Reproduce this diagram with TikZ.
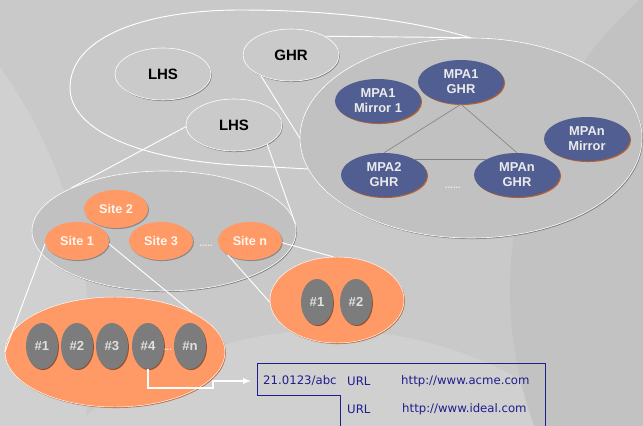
\documentclass[tikz,border=0pt]{standalone}
\usepackage{fontspec}
\setsansfont{Liberation Sans}
\newfontfamily\tblfont{DejaVu Sans}
\usetikzlibrary{shapes.geometric}
\usetikzlibrary{shadows}
\usetikzlibrary{arrows}

\definecolor{bgbase}{RGB}{201,201,201}
\definecolor{bglight}{RGB}{208,208,208}
\definecolor{bgdark}{RGB}{194,194,194}
\definecolor{hubgray}{RGB}{202,202,202}
\definecolor{poolgray}{RGB}{193,193,193}
\definecolor{mpablue}{RGB}{81,94,145}
\definecolor{shadebrown}{RGB}{180,96,50}
\definecolor{siteorange}{RGB}{255,153,102}
\definecolor{hostgray}{RGB}{124,124,124}
\definecolor{tblblue}{RGB}{30,30,140}

\begin{document}
\begin{tikzpicture}[x=0.03cm, y=-0.03cm,
  hub/.style={ellipse, fill=hubgray, draw=white, line width=0.5pt, inner sep=0pt,
    minimum width=2.88cm, minimum height=1.56cm,
    font=\sffamily\bfseries\fontsize{12.8}{15}\selectfont,
    drop shadow={shadow xshift=0.7pt, shadow yshift=-0.9pt, fill=black, opacity=0.35}},
  pool/.style={ellipse, fill=poolgray, draw=white, line width=0.5pt, inner sep=0pt,
    drop shadow={shadow xshift=0.7pt, shadow yshift=-0.9pt, fill=black, opacity=0.35}},
  mpa/.style={ellipse, fill=mpablue, text=white!92!black, inner sep=0pt, align=center,
    minimum width=2.58cm, minimum height=1.32cm,
    font=\sffamily\bfseries\fontsize{11}{12.8}\selectfont,
    drop shadow={shadow xshift=0.9pt, shadow yshift=-0.9pt, fill=shadebrown, opacity=1}},
  site/.style={ellipse, fill=siteorange, text=white!93!orange, inner sep=0pt,
    minimum width=1.92cm, minimum height=1.14cm,
    font=\sffamily\bfseries\fontsize{10.8}{12.8}\selectfont,
    drop shadow={shadow xshift=0.8pt, shadow yshift=-0.9pt, fill=black!60, opacity=0.6}},
  hostpool/.style={ellipse, fill=siteorange, draw=white, line width=0.4pt, inner sep=0pt,
    drop shadow={shadow xshift=0.8pt, shadow yshift=-0.9pt, fill=shadebrown, opacity=0.8}},
  host/.style={ellipse, fill=hostgray, text=white!88!black, inner sep=0pt,
    minimum width=0.96cm, minimum height=1.38cm,
    font=\sffamily\bfseries\fontsize{11.2}{13}\selectfont,
    drop shadow={shadow xshift=0.8pt, shadow yshift=-0.9pt, fill=black, opacity=0.45}},
  zoomline/.style={draw=white, line width=0.8pt},
  dots/.style={inner sep=0pt, text=white!85!gray, font=\sffamily\bfseries\fontsize{8}{8}\selectfont},
  cell/.style={inner sep=0pt, anchor=west, text=tblblue, font=\tblfont\fontsize{10}{11}\selectfont}]

 % canvas and the soft background swirls
 \useasboundingbox (0,0) rectangle (643,426);
 \clip (0,0) rectangle (643,426);
 \fill[bgbase] (0,0) rectangle (643,426);
 \fill[bglight] (-400,350) circle[radius=490];
 \fill[bglight] (330,720) circle[radius=390];
 \fill[bgdark] (900,290) circle[radius=390];

 % outer domain of the hierarchy
 \draw[white, line width=0.8pt] (308,169) -- (255,166) .. controls (140,162) and (70,130) .. (70,88)
   .. controls (70,35) and (150,10) .. (240,10) .. controls (340,10) and (420,22) .. (471,38);

 % top level: LHS and GHR
 \node[hub] (lhs1) at (163,74) {LHS};
 \node[hub] (ghr) at (291,55) {GHR};
 \node[hub] (lhs2) at (234,125) {LHS};

 % GHR expanded into its MPAs
 \node[pool, minimum width=10.26cm, minimum height=6cm] (mpa) at (471,138) {};
 \node[mpa] (mpa1ghr) at (461,82) {MPA1\\GHR};
 \node[mpa] (mpa1mir) at (378,101) {MPA1\\Mirror 1};
 \node[mpa] (mpanmir) at (587,139) {MPAn\\Mirror};
 \node[mpa] (mpa2ghr) at (384,175) {MPA2\\GHR};
 \node[mpa] (mpanghr) at (517,175) {MPAn\\GHR};
 \node[dots] (mdots) at (453,188) {......};

 \draw[gray, line width=0.5pt] (mpa1ghr.south) -- (mpa2ghr.north);
 \draw[gray, line width=0.5pt] (mpa1ghr.south) -- (mpanghr.north);
 \draw[gray, line width=0.5pt] (mpa2ghr.26) -- (mpanghr.154);

 % LHS expanded into its sites
 \node[pool, minimum width=7.92cm, minimum height=3.6cm] (sites) at (164,231) {};
 \node[site] (site2) at (116,209) {Site 2};
 \node[site] (site1) at (77,241) {Site 1};
 \node[site] (site3) at (161,241) {Site 3};
 \node[site] (siten) at (250,241) {Site n};
 \node[dots] (sdots) at (206,246) {.....};

 % sites expanded into their hosts
 \node[hostpool, minimum width=6.6cm, minimum height=3.3cm] (hosts) at (115,352) {};
 \foreach \i/\x in {1/42,2/77,3/112,4/148,n/190} {
   \node[host] (h\i) at (\x,346) {\#\i};
 }
 \node[dots] (hdots) at (168,350) {...};

 \node[hostpool, minimum width=4.02cm, minimum height=2.58cm] (nhosts) at (337,300) {};
 \node[host] (nh1) at (317,302) {\#1};
 \node[host] (nh2) at (356,302) {\#2};

 % zoom lines
 \draw[zoomline] (ghr.29) -- (mpa.north);
 \draw[zoomline] (ghr.214) -- (mpa.west);
 \draw[zoomline] (lhs2.182) -- (sites.155);
 \draw[zoomline] (lhs2.-30) -- (sites.3);
 \draw[zoomline] (site1.185) -- (hosts.west);
 \draw[zoomline] (site1.-5) -- (hosts.27);
 \draw[zoomline] (siten.212) -- (nhosts.182);
 \draw[zoomline] (siten.-3) -- (nhosts.95);

 % handle record
 \draw[tblblue, line width=0.8pt] (340,430) -- (340,395) -- (257,395) -- (257,363) -- (545,363) -- (545,430);
 \node[cell] (doi) at (263,381) {21.0123/abc};
 \node[cell] (type1) at (347,381) {URL};
 \node[cell] (url1) at (401,381) {http://www.acme.com};
 \node[cell] (type2) at (347,409) {URL};
 \node[cell] (url2) at (402,409) {http://www.ideal.com};

 \draw[white, line width=1.3pt, ->, >=latex, shorten >=0.36cm] (h4.south) -- ++(0,19) -- ++(65,0) |- (doi.west);

\end{tikzpicture}
\end{document}
